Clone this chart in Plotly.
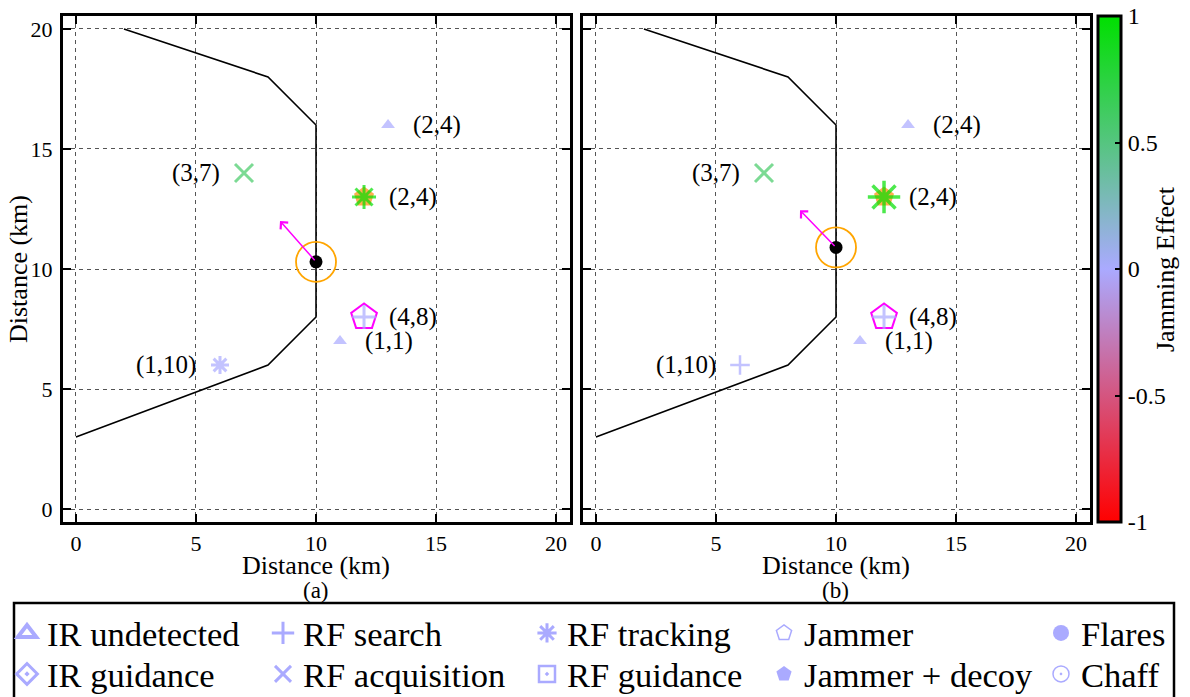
import plotly.graph_objects as go

W, H = 1190, 697

# ---------------- data ----------------
boundary_x = [2, 8, 10, 10, 8, 0]
boundary_y = [20, 18, 16, 8, 6, 3]

axis_ticks = [0, 5, 10, 15, 20]
cbar_ticks = [-1, -0.5, 0, 0.5, 1]
cbar_ticktext = ["-1", "-0.5", "0", "0.5", "1"]

threat_x = [13, 7, 12, 12, 11, 6]
threat_y = [16, 14, 13, 8, 7, 6]
threat_labels = ["(2,4)", "(3,7)", "(2,4)", "(4,8)", "(1,1)", "(1,10)"]
threat_label_side = ["right", "left", "right", "right", "right", "left"]

a_modes = ["IR undetected", "RF acquisition", "RF tracking", "RF search", "IR undetected", "RF tracking"]
a_effect = [0, 0.6, 1.0, 0, 0, 0]
a_aircraft_x, a_aircraft_y = [10], [10.3]
a_heading_x, a_heading_y = [8.5], [12.0]

b_modes = ["IR undetected", "RF acquisition", "RF tracking", "RF search", "IR undetected", "RF search"]
b_effect = [0, 0.6, 1.0, 0, 0, 0]
b_aircraft_x, b_aircraft_y = [10], [10.9]
b_heading_x, b_heading_y = [8.5], [12.45]

jammer_x, jammer_y = [12], [8]
decoy_x, decoy_y = [12], [13]

legend_names = ["IR undetected", "RF search", "RF tracking", "Jammer", "Flares",
                "IR guidance", "RF acquisition", "RF guidance", "Jammer + decoy", "Chaff"]

panel_captions = ["(a)", "(b)"]
axis_title = "Distance (km)"
cbar_title = "Jamming Effect"

# ---------------- styles ----------------
FONT = "Liberation Serif, Times New Roman, serif"
LAV = "#aaaaff"
colorscale = [[0.0, "#ff0000"], [0.5, "#aaaaff"], [1.0, "#00e000"]]
symbol_of = {
    "IR undetected": "triangle-up", "IR guidance": "diamond-open-dot",
    "RF search": "cross-thin-open", "RF acquisition": "x-thin-open",
    "RF tracking": "asterisk-open", "RF guidance": "square-open-dot",
    "Jammer": "pentagon-open", "Jammer + decoy": "pentagon",
    "Flares": "circle", "Chaff": "circle-open-dot",
}
legend_symbol_of = dict(symbol_of, **{"IR undetected": "triangle-up-open"})
lw_of = {
    "IR undetected": 4, "IR guidance": 3, "RF search": 3, "RF acquisition": 3,
    "RF tracking": 3, "RF guidance": 2.5, "Jammer": 1.5, "Jammer + decoy": 0,
    "Flares": 0, "Chaff": 1.5,
}
a_sizes = [12, 18, 20, 17, 12, 15]
b_sizes = [12, 18, 27, 17, 12, 14]
a_lw = [0, 3, 3, 3, 0, 3]
b_lw = [0, 3, 3.5, 3, 0, 2.5]

fig = go.Figure()

panels = [
    ("x", "y", a_modes, a_effect, a_sizes, a_lw, a_aircraft_x, a_aircraft_y, a_heading_x, a_heading_y),
    ("x2", "y2", b_modes, b_effect, b_sizes, b_lw, b_aircraft_x, b_aircraft_y, b_heading_x, b_heading_y),
]

annotations = []
for (xa, ya, modes, eff, sizes, lws, acx, acy, hx, hy) in panels:
    fig.add_trace(go.Scatter(x=boundary_x, y=boundary_y, mode="lines", xaxis=xa, yaxis=ya,
                             line=dict(color="black", width=1.6), showlegend=False, hoverinfo="skip"))
    fig.add_trace(go.Scatter(x=decoy_x, y=decoy_y, mode="markers", xaxis=xa, yaxis=ya,
                             marker=dict(symbol="pentagon", size=21, color="#ffa030", opacity=0.85,
                                         line=dict(width=0)), showlegend=False))
    fig.add_trace(go.Scatter(x=jammer_x, y=jammer_y, mode="markers", xaxis=xa, yaxis=ya,
                             marker=dict(symbol="pentagon-open", size=27, color="#ff00ff",
                                         line=dict(width=2)), showlegend=False))
    fig.add_trace(go.Scatter(x=threat_x, y=threat_y, mode="markers", xaxis=xa, yaxis=ya,
                             marker=dict(symbol=[symbol_of[m] for m in modes], size=sizes,
                                         color=eff, coloraxis="coloraxis",
                                         line=dict(width=lws)),
                             showlegend=False))
    fig.add_trace(go.Scatter(x=acx, y=acy, mode="markers", xaxis=xa, yaxis=ya,
                             marker=dict(symbol="circle-open", size=40, color="#ffa500",
                                         line=dict(width=1.8)), showlegend=False))
    fig.add_trace(go.Scatter(x=acx, y=acy, mode="markers", xaxis=xa, yaxis=ya,
                             marker=dict(symbol="circle", size=13, color="black"), showlegend=False))
    annotations.append(dict(x=hx[0], y=hy[0], ax=acx[0], ay=acy[0], xref=xa, yref=ya,
                            axref=xa, ayref=ya, showarrow=True, arrowhead=4, arrowsize=1.3,
                            arrowwidth=1.5, arrowcolor="#ff00ff", text=""))
    for tx, ty, lab, side in zip(threat_x, threat_y, threat_labels, threat_label_side):
        annotations.append(dict(x=tx, y=ty, xref=xa, yref=ya, text=lab, showarrow=False,
                                xanchor="left" if side == "right" else "right", yanchor="middle",
                                xshift=23 if side == "right" else -22,
                                font=dict(family=FONT, size=25, color="black")))

# legend entries (one legend per cell to reproduce the boxed grid)
col_x = [27, 283, 547, 784, 1061]
row_y = [633, 674]
for i, name in enumerate(legend_names):
    lg = "legend" if i == 0 else f"legend{i + 1}"
    fig.add_trace(go.Scatter(x=[None], y=[None], mode="markers", name=name, legend=lg,
                             marker=dict(symbol=legend_symbol_of[name], size=16, color=LAV,
                                         line=dict(width=lw_of[name], color=LAV))))

legend_layouts = {}
for i, name in enumerate(legend_names):
    r, c = divmod(i, 5)
    lg = "legend" if i == 0 else f"legend{i + 1}"
    legend_layouts[lg] = dict(x=(col_x[c] - 20) / W, y=1 - row_y[r] / H, xanchor="left",
                              yanchor="middle", bgcolor="rgba(0,0,0,0)", borderwidth=0,
                              font=dict(family=FONT, size=34.5, color="black"),
                              itemwidth=30)

# x-axis titles and panel captions
for cap, xc in zip(panel_captions, [316, 836]):
    annotations.append(dict(x=xc / W, y=1 - 565 / H, xref="paper", yref="paper", text=axis_title,
                            xanchor="center", yanchor="middle",
                            showarrow=False, font=dict(family=FONT, size=26, color="black")))
    annotations.append(dict(x=xc / W, y=1 - 590 / H, xref="paper", yref="paper", text=cap,
                            xanchor="center", yanchor="middle",
                            showarrow=False, font=dict(family=FONT, size=23, color="black")))

# y-axis title (left panel)
annotations.append(dict(x=18 / W, y=1 - 269 / H, xref="paper", yref="paper", text=axis_title,
                        textangle=-90, xanchor="center", yanchor="middle", showarrow=False,
                        font=dict(family=FONT, size=26, color="black")))
# colour bar title
annotations.append(dict(x=1165 / W, y=1 - 269 / H, xref="paper", yref="paper", text=cbar_title,
                        textangle=-90, xanchor="center", yanchor="middle", showarrow=False,
                        font=dict(family=FONT, size=26, color="black")))

shapes = [dict(type="rect", xref="paper", yref="paper", x0=14 / W, x1=1174 / W,
               y0=-0.02, y1=1 - 603 / H, line=dict(color="black", width=2.5))]

axis_common = dict(range=[-0.54, 20.58], tickvals=axis_ticks, ticks="inside", ticklen=8,
                   tickwidth=2, tickcolor="black", showline=True, linecolor="black", linewidth=3,
                   mirror="allticks", showgrid=True, gridcolor="#555555", gridwidth=1,
                   griddash="4px,4px", zeroline=False,
                   tickfont=dict(family=FONT, size=22, color="black"), automargin=False)

ydom = [1 - 522 / H, 1 - 16 / H]
fig.update_layout(
    width=W, height=H, margin=dict(l=0, r=0, t=0, b=0, autoexpand=False),
    paper_bgcolor="white", plot_bgcolor="white",
    xaxis=dict(axis_common, domain=[63 / W, 570 / W], anchor="y"),
    yaxis=dict(axis_common, domain=ydom, anchor="x", range=[-0.54, 20.54],
               ticklabelstandoff=3),
    xaxis2=dict(axis_common, domain=[583 / W, 1090 / W], anchor="y2"),
    yaxis2=dict(axis_common, domain=ydom, anchor="x2", range=[-0.54, 20.54], showticklabels=False),
    coloraxis=dict(colorscale=colorscale, cmin=-1, cmax=1,
                   colorbar=dict(x=1098 / W, xanchor="left", xpad=0, ypad=0, y=1 - 16 / H,
                                 yanchor="top", len=(522 - 16) / H, lenmode="fraction",
                                 thickness=23, outlinewidth=3, outlinecolor="black",
                                 tickvals=cbar_ticks, ticktext=cbar_ticktext, ticks="inside",
                                 ticklen=7, tickwidth=2, tickcolor="black",
                                 tickfont=dict(family=FONT, size=24, color="black"))),
    annotations=annotations, shapes=shapes,
    **legend_layouts,
)

fig.write_html("out.html", config={"displayModeBar": False},
               post_script="document.body.style.margin='0px';")
